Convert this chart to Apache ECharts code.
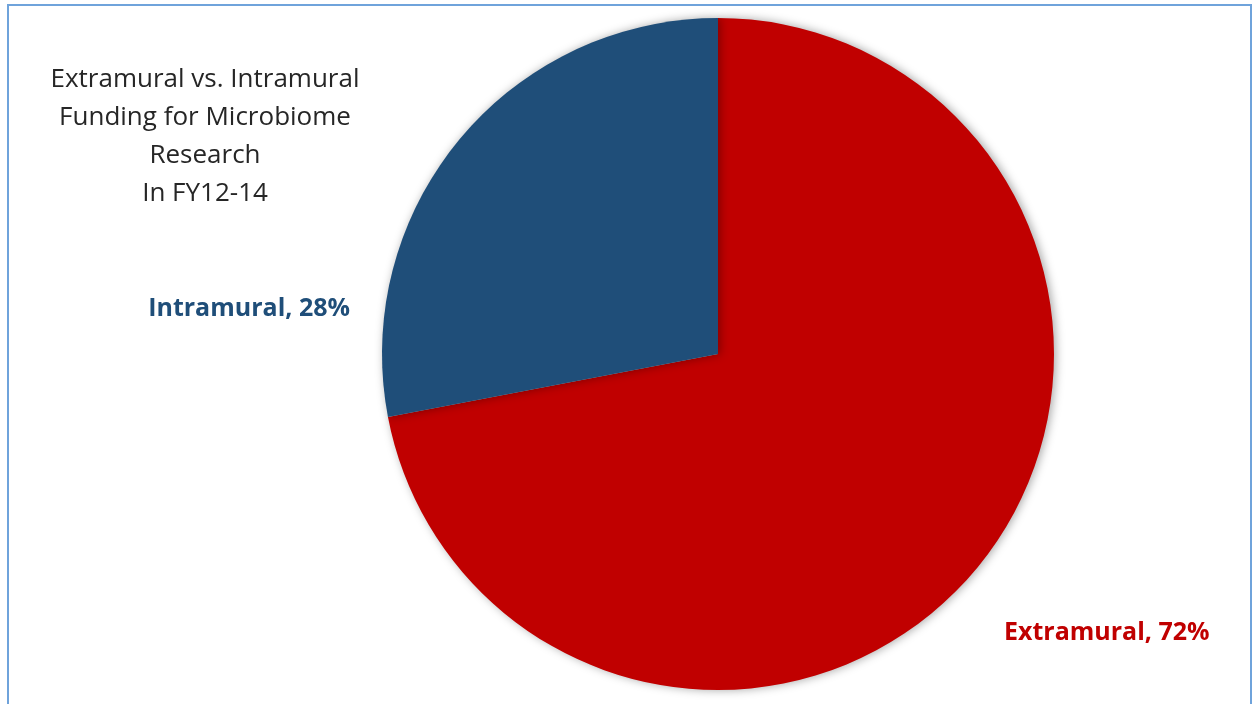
<!DOCTYPE html>
<html>
<head>
<meta charset="utf-8">
<script src="https://cdn.jsdelivr.net/npm/echarts@6/dist/echarts.min.js"></script>
<style>
    html, body { margin: 0; padding: 0; background: #fff; }
    #frame {
        position: absolute;
        left: 7px; top: 4px;
        width: 1245px; height: 720px;
        border: 2px solid #6fa3db;
        box-sizing: border-box;
    }
    #chart { position: absolute; left: 0; top: 0; width: 1257px; height: 704px; }
</style>
</head>
<body>
<div id="frame"></div>
<div id="chart"></div>
<script>
    const categories = ['Extramural', 'Intramural']
    const shares = [72, 28]
    const colors = ['#c00000', '#1f4e79']
    const titleLines = ['Extramural vs. Intramural', 'Funding for Microbiome', 'Research', 'In FY12-14']

    // where each slice label sits (px)
    const labelPos = [
        {x: 1004, y: 633, align: 'left'},
        {x: 350, y: 309, align: 'right'}
    ]

    const chart = echarts.init(document.getElementById('chart'))
    const option = {
        animation: false,
        title: {
            text: titleLines.join('\n'),
            left: 200,
            top: 56,
            textAlign: 'center',
            textStyle: {
                fontFamily: 'Open Sans',
                fontWeight: 'normal',
                fontSize: 26,
                lineHeight: 38,
                color: '#262626'
            }
        },
        series: [{
            type: 'pie',
            center: [718, 354],
            radius: 336,
            startAngle: 90,
            clockwise: true,
            data: categories.map((name, i) => ({
                name: name,
                value: shares[i],
                itemStyle: {color: colors[i]},
                label: {color: colors[i]}
            })),
            itemStyle: {
                shadowBlur: 10,
                shadowColor: 'rgba(0, 0, 0, 0.35)',
                shadowOffsetX: 2,
                shadowOffsetY: 0
            },
            label: {
                show: true,
                formatter: p => p.name + ', ' + p.value + '%',
                fontFamily: 'Open Sans',
                fontWeight: 'bold',
                fontSize: 25
            },
            labelLine: {show: false},
            labelLayout: p => {
                const pos = labelPos[p.dataIndex]
                return {x: pos.x, y: pos.y, align: pos.align, verticalAlign: 'middle'}
            }
        }]
    }
    chart.setOption(option)
</script>
</body>
</html>
